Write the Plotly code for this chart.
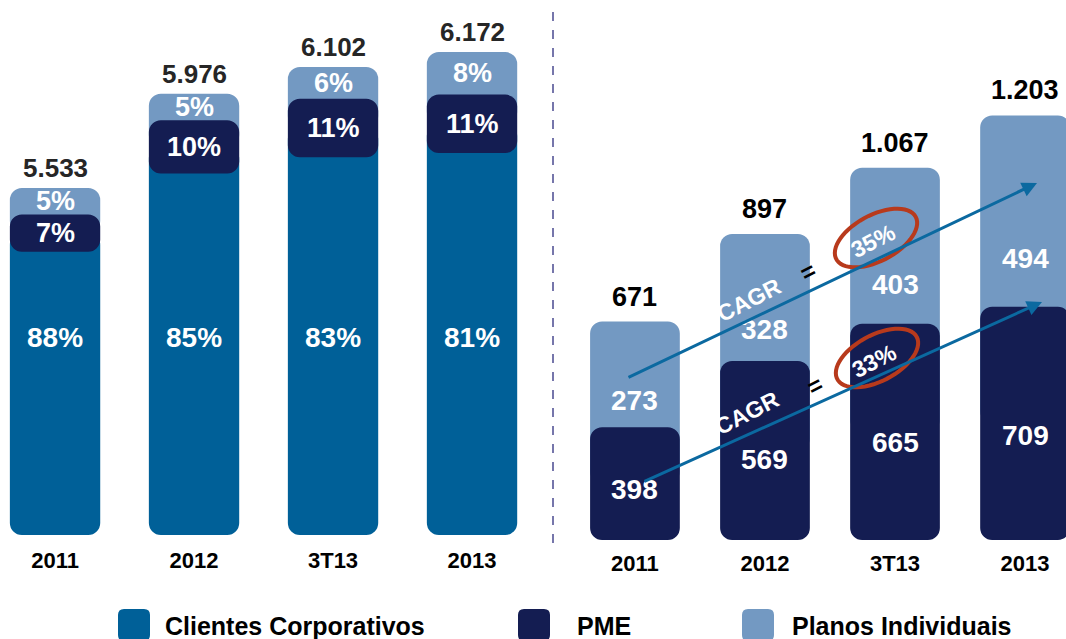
import numpy as np
import plotly.graph_objects as go

# ---------------- data ----------------
CATEGORIES = ["2011", "2012", "3T13", "2013"]
SERIES = ["Clientes Corporativos", "PME", "Planos Individuais"]

LEFT_TOTALS = [5.533, 5.976, 6.102, 6.172]        # thousands
LEFT_CORP_PCT = [88, 85, 83, 81]
LEFT_PME_PCT = [7, 10, 11, 11]
LEFT_PI_PCT = [5, 5, 6, 8]

RIGHT_PME = [398, 569, 665, 709]
RIGHT_PI = [273, 328, 403, 494]
RIGHT_TOTALS = [671, 897, 1067, 1203]

CAGR_PI = "35%"
CAGR_PME = "33%"

# ---------------- style ----------------
W, H = 1066, 639
C_CORP = "#006098"
C_PME = "#141d52"
C_PI = "#7399c2"
C_ARROW = "#0b69a0"
C_RING = "#b83a1c"
FONT = "Liberation Sans, Arial, sans-serif"

BASE_L = 3.9          # visual baseline of left panel
SEG_L = 0.025         # display height per percentage point (left panel)
BASE_R = 107          # visual baseline of right panel
YL_RANGE = [3.853, 6.417]
YR_RANGE = [94, 1501]
CORNER = 12

def px(x):
    return x / W

def py(y):
    return 1 - y / H

fig = go.Figure()

# ---------- left panel ----------
tot = np.array(LEFT_TOTALS)
pi_h = np.array(LEFT_PI_PCT) * SEG_L
pme_h = np.array(LEFT_PME_PCT) * SEG_L
pme_top = tot - pi_h
pme_bot = pme_top - pme_h
pme_mid = (pme_top + pme_bot) / 2
wl = 0.65

common = dict(width=wl, marker_cornerradius=CORNER, hoverinfo="skip",
              xaxis="x", yaxis="y", showlegend=False, marker_line_width=0)
fig.add_bar(x=CATEGORIES, base=BASE_L, y=pme_mid - BASE_L,
            marker_color=C_CORP, name=SERIES[0], **common)
fig.add_bar(x=CATEGORIES, base=pme_mid, y=tot - pme_mid,
            marker_color=C_PI, name=SERIES[2], **common)
fig.add_bar(x=CATEGORIES, base=pme_bot, y=pme_h,
            marker_color=C_PME, name=SERIES[1], **common)

# ---------- right panel ----------
rp = np.array(RIGHT_PME, dtype=float)
ri = np.array(RIGHT_PI, dtype=float)
rt = rp + ri
rmid = (rp + BASE_R) / 2
wr = 0.69
common_r = dict(width=wr, marker_cornerradius=CORNER, hoverinfo="skip",
                xaxis="x2", yaxis="y2", showlegend=False, marker_line_width=0)
fig.add_bar(x=CATEGORIES, base=rmid, y=rt - rmid,
            marker_color=C_PI, name=SERIES[2], **common_r)
fig.add_bar(x=CATEGORIES, base=BASE_R, y=rp - BASE_R,
            marker_color=C_PME, name=SERIES[1], **common_r)

ann = []

def label(x, y, text, xref, yref, size=28, color="white", yshift=0, yanchor="middle"):
    ann.append(dict(x=x, y=y, xref=xref, yref=yref, text=text, showarrow=False,
                    yshift=yshift, yanchor=yanchor, xanchor="center",
                    font=dict(family=FONT, size=size, color=color, weight=700)))

# left labels
corp_label_y = YL_RANGE[0] + (545 - 337) * (YL_RANGE[1] - YL_RANGE[0]) / 545
for i in range(len(CATEGORIES)):
    label(i, tot[i], f"{LEFT_TOTALS[i]:.3f}", "x", "y", size=26, color="#262626",
          yshift=3, yanchor="bottom")
    label(i, (tot[i] + pme_top[i]) / 2, f"{LEFT_PI_PCT[i]}%", "x", "y", size=27)
    label(i, pme_mid[i], f"{LEFT_PME_PCT[i]}%", "x", "y", size=27)
    label(i, corp_label_y, f"{LEFT_CORP_PCT[i]}%", "x", "y", size=28)

# right labels
for i in range(len(CATEGORIES)):
    label(i, RIGHT_TOTALS[i], f"{RIGHT_TOTALS[i]:,}".replace(",", "."), "x2", "y2",
          size=27, color="black", yshift=8, yanchor="bottom")
    label(i, rp[i] + 0.25 * ri[i], f"{RIGHT_PI[i]}", "x2", "y2", size=28)
    label(i, BASE_R + 0.45 * (rp[i] - BASE_R), f"{RIGHT_PME[i]}", "x2", "y2", size=28)

# CAGR arrows
for (tx, ty, hx, hy) in [(627, 378, 1037, 183), (643, 482, 1042, 302)]:
    ann.append(dict(x=px(hx), y=py(hy), xref="paper", yref="paper",
                    ax=tx - hx, ay=ty - hy, showarrow=True, arrowhead=2,
                    arrowsize=1, arrowwidth=3, arrowcolor=C_ARROW, text=""))

shapes = []

def ellipse_path(cx, cy, rx, ry, ang_deg):
    t = np.linspace(0, 2 * np.pi, 60)
    a = np.deg2rad(ang_deg)
    xs = cx + rx * np.cos(t) * np.cos(a) - ry * np.sin(t) * np.sin(a)
    ys = cy + rx * np.cos(t) * np.sin(a) + ry * np.sin(t) * np.cos(a)
    pts = [f"{px(x):.5f},{py(y):.5f}" for x, y in zip(xs, ys)]
    return "M" + " L".join(pts) + " Z"

def ptext(x, y, text, size, color, angle=0, xanchor="center"):
    ann.append(dict(x=px(x), y=py(y), xref="paper", yref="paper", text=text,
                    showarrow=False, textangle=angle, xanchor=xanchor, yanchor="middle",
                    font=dict(family=FONT, size=size, color=color, weight=700)))

for (cx, cy), txt, (gx, gy), (ex, ey) in [
    ((876, 238), CAGR_PI, (749, 300), (808, 272)),
    ((877, 358), CAGR_PME, (747, 413), (815, 386)),
]:
    shapes.append(dict(type="path", path=ellipse_path(cx, cy, 45, 23, -28),
                       xref="paper", yref="paper",
                       line=dict(color=C_RING, width=4)))
    ptext(cx - 3, cy + 3, txt, 23, "white", -27)
    ptext(gx, gy, "CAGR", 23, "white", -27)
    ptext(ex, ey, "=", 24, "black", -27)

# divider
shapes.append(dict(type="line", xref="paper", yref="paper",
                   x0=px(553), x1=px(553), y0=py(12), y1=py(545),
                   line=dict(color="#4a4a90", width=1.5, dash="dash")))

# legend (custom, large swatches)
def rrect(x0, y0, x1, y1, r):
    return (f"M{px(x0+r)},{py(y0)} L{px(x1-r)},{py(y0)} Q{px(x1)},{py(y0)} {px(x1)},{py(y0+r)} "
            f"L{px(x1)},{py(y1-r)} Q{px(x1)},{py(y1)} {px(x1-r)},{py(y1)} "
            f"L{px(x0+r)},{py(y1)} Q{px(x0)},{py(y1)} {px(x0)},{py(y1-r)} "
            f"L{px(x0)},{py(y0+r)} Q{px(x0)},{py(y0)} {px(x0+r)},{py(y0)} Z")

for name, col, sx, tx in [(SERIES[0], C_CORP, 118, 163),
                          (SERIES[1], C_PME, 518, 575),
                          (SERIES[2], C_PI, 742, 790)]:
    shapes.append(dict(type="path", path=rrect(sx, 609, sx + 32, 641, 6),
                       xref="paper", yref="paper", fillcolor=col,
                       line=dict(width=0)))
    ptext(tx, 626, name, 25, "black", 0, xanchor="left")

ydom = [(H - 545) / H, 1]
axis_font = dict(family=FONT, size=22, color="black", weight=700)
fig.update_layout(
    width=W, height=H,
    margin=dict(l=0, r=0, t=0, b=0, autoexpand=False),
    paper_bgcolor="white", plot_bgcolor="white",
    barmode="overlay",
    showlegend=False,
    xaxis=dict(domain=[0, 545 / W], range=[-0.396, 3.525], type="category",
               showgrid=False, zeroline=False, showline=False, ticks="",
               tickfont=axis_font, ticklabelstandoff=0),
    yaxis=dict(domain=ydom, range=YL_RANGE, visible=False),
    xaxis2=dict(domain=[565 / W, 1], range=[-0.538, 3.315], type="category",
                showgrid=False, zeroline=False, showline=False, ticks="",
                tickfont=axis_font, ticklabelstandoff=3),
    yaxis2=dict(domain=ydom, range=YR_RANGE, visible=False, anchor="x2"),
    annotations=ann,
    shapes=shapes,
)

fig.write_html("out.html", config={"displayModeBar": False},
               post_script="document.body.style.margin='0';document.body.style.overflow='hidden';")
